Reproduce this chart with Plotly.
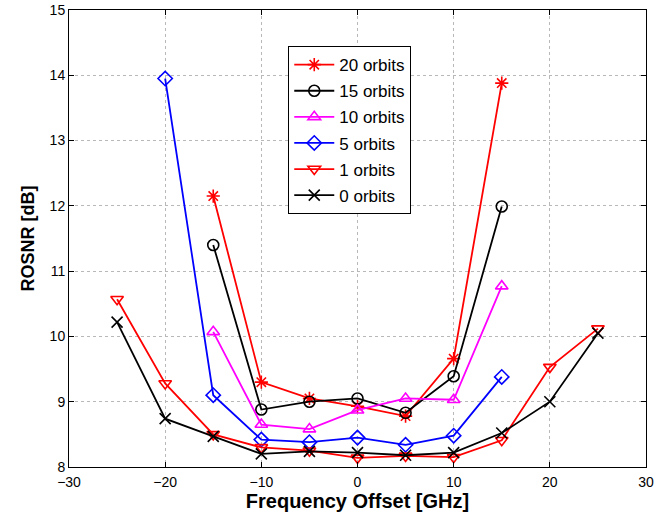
import plotly.graph_objects as go

x_short = [-15, -10, -5, 0, 5, 10, 15]
x_mid = [-20, -15, -10, -5, 0, 5, 10, 15]
x_long = [-25, -20, -15, -10, -5, 0, 5, 10, 15, 20, 25]

y_20 = [12.15, 9.3, 9.05, 8.93, 8.78, 9.66, 13.88]
y_15 = [11.4, 8.88, 9.0, 9.05, 8.83, 9.39, 11.99]
y_10 = [10.07, 8.65, 8.58, 8.87, 9.05, 9.03, 10.77]
y_5 = [13.95, 9.1, 8.42, 8.38, 8.45, 8.34, 8.48, 9.38]
y_1 = [10.57, 9.28, 8.5, 8.3, 8.25, 8.14, 8.17, 8.15, 8.41, 9.53, 10.12]
y_0 = [10.22, 8.74, 8.47, 8.2, 8.24, 8.22, 8.18, 8.22, 8.52, 9.0, 10.05]

series = [
    ("20 orbits", x_short, y_20, "#ff0000", "asterisk-open"),
    ("15 orbits", x_short, y_15, "#000000", "circle-open"),
    ("10 orbits", x_short, y_10, "#ff00ff", "triangle-up-open"),
    ("5 orbits", x_mid, y_5, "#0000ff", "diamond-open"),
    ("1 orbits", x_long, y_1, "#ff0000", "triangle-down-open"),
    ("0 orbits", x_long, y_0, "#000000", "x-thin-open"),
]

fig = go.Figure()
for name, xs, ys, col, sym in series:
    fig.add_trace(go.Scatter(
        x=xs, y=ys, name=name, mode="lines+markers", legendgroup=name,
        line=dict(color=col, width=1.8),
        marker=dict(symbol=sym, size=11, color=col,
                    line=dict(color=col, width=1.6)),
    ))

axis_common = dict(
    showline=True, linecolor="black", linewidth=1, mirror="ticks",
    ticks="inside", ticklen=5, tickcolor="black",
    showgrid=True, gridcolor="#b8b8b8", griddash="dot", gridwidth=1,
    zeroline=False, automargin=False, ticklabeloverflow="allow",
    tickfont=dict(family="Liberation Sans, Arial, sans-serif", size=14, color="black"),
)

fig.update_layout(
    width=667, height=521,
    margin=dict(l=69, r=21, t=10, b=54),
    paper_bgcolor="white", plot_bgcolor="white",
    font=dict(family="Liberation Sans, Arial, sans-serif", size=14, color="black"),
    xaxis=dict(range=[-30, 30], dtick=10, ticklabelstandoff=2,
               title=dict(text="<b>Frequency Offset [GHz]</b>", font=dict(size=20), standoff=3),
               **axis_common),
    yaxis=dict(range=[8, 15], dtick=1,
               title=dict(text="<b>ROSNR [dB]</b>", font=dict(size=18), standoff=10),
               **axis_common),
    legend=dict(x=0.38, y=0.921, xanchor="left", yanchor="top",
                bgcolor="white", bordercolor="black", borderwidth=1,
                font=dict(size=17), tracegroupgap=1, itemwidth=40),
)

fig.write_html("out.html", config={"displayModeBar": False},
               post_script="document.body.style.margin='0';")
